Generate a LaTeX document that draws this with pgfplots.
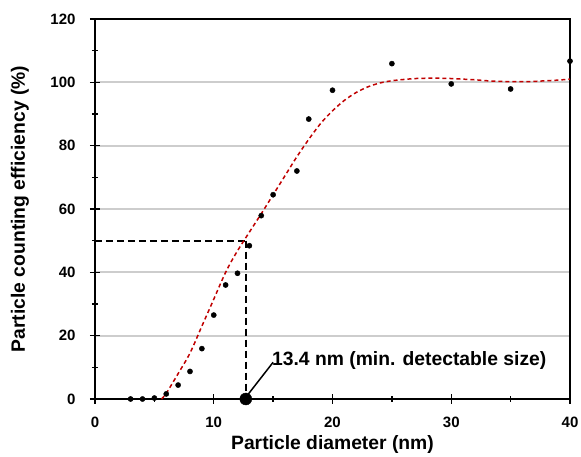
\documentclass[border=0pt]{standalone}
\usepackage{fontspec}
\setmainfont{Liberation Sans}
\usepackage{pgfplots}
\pgfplotsset{compat=1.18}

\definecolor{fitred}{RGB}{192,0,0}
\definecolor{gridgray}{RGB}{205,205,205}

\begin{document}
\begin{tikzpicture}
\useasboundingbox (-95pt,-58pt) rectangle (486pt,399pt);
\begin{axis}[
  at={(0pt,0pt)}, anchor=south west,
  scale only axis,
  width=475pt, height=380pt,
  xmin=0, xmax=40, ymin=0, ymax=120,
  xtick={0,10,20,30,40}, ytick={0,20,...,120},
  minor xtick={5,15,25,35}, minor ytick={10,30,...,110},
  tick align=center,
  major tick length=10pt, minor tick length=6pt,
  major tick style={black, line width=1.4pt},
  minor tick style={black, line width=1.4pt},
  axis line style={line width=1.6pt},
  xtick pos=bottom, ytick pos=left,
  grid=major, xmajorgrids=false,
  grid style={gridgray, line width=1.8pt},
  /pgf/number format/assume math mode=true,
  tick label style={font=\bfseries\fontsize{15}{15}\selectfont},
  yticklabel style={xshift=-11pt},
  xticklabel style={yshift=-9pt},
  xlabel={Particle diameter (nm)},
  ylabel={Particle counting efficiency (\%)},
  label style={font=\bfseries\fontsize{19.3}{19.3}\selectfont},
  x label style={at={(axis description cs:0.5,-0.121)}, anchor=center},
  y label style={at={(axis description cs:-0.158,0.5)}, anchor=center},
  clip=false,
]
% reference lines at 50 %
\addplot[black, line width=1.8pt, dash pattern=on 7pt off 4pt]
  coordinates {(0,50) (12.7,50)};
\addplot[black, line width=1.6pt, dash pattern=on 7pt off 4pt]
  coordinates {(12.7,50) (12.7,0)};

% fitted curve
\addplot[fitred, line width=1.5pt, dash pattern=on 4pt off 3pt, smooth, tension=0.5] coordinates {
(5.6,0) (6,1.8) (7,8) (8,14.5) (9,23) (10,31.5) (11,40) (12,46.8)
(14,58.5) (15,64.5) (16,70.5) (17,76.5) (18,82)
(19,87) (20,91) (21,94.3) (22,96.8) (23,98.6) (24,99.8) (25,100.5)
(26,100.9) (27,101.2) (28,101.3) (29,101.3) (30,101.2) (31,101)
(32,100.8) (33,100.5) (34,100.3) (35,100.2) (36,100.2) (37,100.3)
(38,100.5) (39,100.7) (40,101)
};

% measured points
\addplot[only marks, mark=*, mark size=2.6pt, black] coordinates {
(3,0) (4,0) (5,0.3) (6,1.6) (7,4.4) (8,8.7) (9,15.9) (10,26.5)
(11,36) (12,39.7) (13,48.4) (14,57.9) (15,64.5) (17,72) (18,88.4)
(20,97.5) (25,105.9) (30,99.5) (35,97.9) (40,106.7)
};

% minimum detectable size marker
\addplot[only marks, mark=*, mark size=6pt, black] coordinates {(12.7,0)};
\draw[black, line width=1.5pt] (axis cs:15,11.6) -- (axis cs:12.9,1.5);
\node[anchor=base west, inner sep=0pt,
  font=\bfseries\fontsize{19.3}{19.3}\selectfont]
  at (axis cs:14.9,10.7) {13.4 nm (min. detectable size)};
\end{axis}
\end{tikzpicture}
\end{document}
